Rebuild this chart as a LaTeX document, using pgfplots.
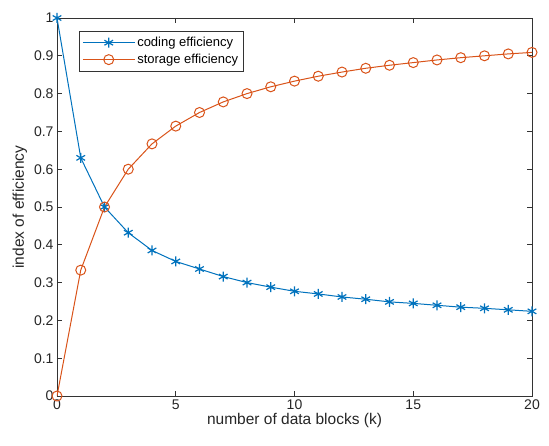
\documentclass[border=0pt]{standalone}
\usepackage{pgfplots}
\pgfplotsset{compat=1.18}
\usepackage{fontspec}
\setmainfont{Liberation Sans}
\definecolor{mblue}{rgb}{0,0.447,0.741}
\definecolor{morange}{rgb}{0.85,0.325,0.098}
\begin{document}
\begin{tikzpicture}
\path[use as bounding box] (-57pt,-49pt) rectangle (492pt,396pt);
\begin{axis}[
  at={(0,0)}, anchor=south west,
  scale only axis, width=475pt, height=378pt,
  xmin=0, xmax=20, ymin=0, ymax=1,
  xtick={0,5,...,20}, ytick={0,0.1,...,1},
  yticklabels={0,0.1,0.2,0.3,0.4,0.5,0.6,0.7,0.8,0.9,1},
  tick align=inside, tick pos=both,
  major tick length=5pt,
  /pgf/number format/assume math mode=true,
  tick label style={font=\fontsize{14}{16}\selectfont, color=black!85},
  label style={font=\fontsize{15.5}{18}\selectfont, color=black!85},
  xlabel={number of data blocks (k)},
  ylabel={index of efficiency},
  xlabel style={yshift=3pt},
  ylabel style={yshift=0pt},
  axis line style={black!80, line width=0.8pt},
  every tick/.style={black!80, line width=0.8pt},
  legend style={at={(0.046,0.966)}, anchor=north west, font=\fontsize{13}{15}\selectfont,
    draw=black!80, line width=0.8pt, inner xsep=3pt, inner ysep=4pt, row sep=2pt},
  legend cell align=left,
  legend image code/.code={\draw[mark repeat=2,mark phase=2] plot coordinates {(0pt,0pt) (26pt,0pt) (52pt,0pt)};},
]
\addplot[color=mblue, line width=1pt, mark=asterisk, mark size=5pt, mark options={line width=1.2pt}] coordinates {
(0,1) (1,0.63) (2,0.5) (3,0.432) (4,0.385) (5,0.356) (6,0.336) (7,0.316) (8,0.300) (9,0.288) (10,0.277)
(11,0.270) (12,0.262) (13,0.256) (14,0.249) (15,0.245) (16,0.240) (17,0.235) (18,0.232) (19,0.228) (20,0.224)
};
\addlegendentry{coding efficiency}
\addplot[color=morange, line width=1pt, mark=o, mark size=5pt, mark options={line width=1pt}] coordinates {
(0,0) (1,0.333) (2,0.5) (3,0.6) (4,0.667) (5,0.714) (6,0.75) (7,0.778) (8,0.8) (9,0.818) (10,0.833)
(11,0.846) (12,0.857) (13,0.867) (14,0.875) (15,0.882) (16,0.889) (17,0.895) (18,0.9) (19,0.905) (20,0.909)
};
\addlegendentry{storage efficiency}
\end{axis}
\end{tikzpicture}
\end{document}
